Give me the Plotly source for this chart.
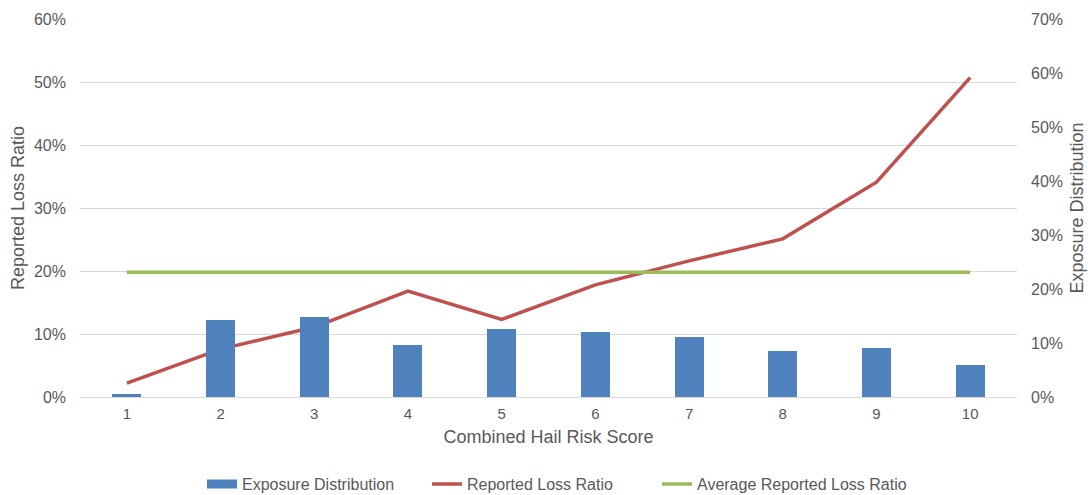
import plotly.graph_objects as go

scores = [1, 2, 3, 4, 5, 6, 7, 8, 9, 10]
tick_labels = ["1", "2", "3", "4", "5", "6", "7", "8", "9", "10"]
exposure = [0.5, 14.3, 14.8, 9.7, 12.6, 12.1, 11.1, 8.5, 9.0, 5.9]
loss_ratio = [2.2, 7.6, 11.1, 16.8, 12.3, 17.8, 21.6, 25.1, 34.1, 50.7]
avg_loss_ratio = [19.8] * 10

FONT = "Liberation Sans, Arial, sans-serif"
GREY = "#595959"
BLUE = "#4F81BD"

fig = go.Figure()
fig.add_trace(go.Bar(
    x=scores, y=exposure, name="Exposure Distribution", yaxis="y2",
    marker=dict(color=BLUE, line=dict(width=0)), width=0.31, showlegend=False,
))
# legend entry for the bars (wide rectangle swatch)
fig.add_trace(go.Scatter(
    x=[None], y=[None], name="Exposure Distribution", mode="lines",
    line=dict(color=BLUE, width=9), legend="legend",
))
fig.add_trace(go.Scatter(
    x=scores, y=loss_ratio, name="Reported Loss Ratio", mode="lines",
    line=dict(color="#C0504D", width=3.5), legend="legend2",
))
fig.add_trace(go.Scatter(
    x=scores, y=avg_loss_ratio, name="Average Reported Loss Ratio", mode="lines",
    line=dict(color="#9BBB59", width=3.5), legend="legend3",
))

def leg(xpx):
    return dict(orientation="h", xref="container", x=xpx / 1088, xanchor="left",
                yref="container", y=0.022, yanchor="middle",
                font=dict(size=16, color=GREY), bgcolor="rgba(0,0,0,0)")

fig.update_layout(
    width=1088, height=495,
    margin=dict(l=80, r=71, t=19, b=98, autoexpand=False),
    paper_bgcolor="white", plot_bgcolor="white",
    font=dict(family=FONT, color=GREY, size=15),
    showlegend=True,
    legend=leg(202), legend2=leg(427), legend3=leg(657),
    xaxis=dict(range=[0.5, 10.5], tickvals=scores, ticktext=tick_labels,
               showgrid=False, showline=True, linecolor="#D9D9D9", linewidth=1,
               ticks="", tickfont=dict(size=15, color=GREY), ticklabelstandoff=3,
               title=dict(text="Combined Hail Risk Score", font=dict(size=18, color=GREY), standoff=9),
               zeroline=False, automargin=False),
    yaxis=dict(range=[0, 60], tickvals=[0, 10, 20, 30, 40, 50, 60],
               ticktext=["0%", "10%", "20%", "30%", "40%", "50%", "60%"],
               showgrid=True, gridcolor="#D9D9D9", gridwidth=1, zeroline=False,
               tickfont=dict(size=16, color=GREY), ticks="", ticklabelstandoff=13,
               automargin=False,
               title=dict(text="Reported Loss Ratio", font=dict(size=18, color=GREY), standoff=4)),
    yaxis2=dict(range=[0, 70], tickvals=[0, 10, 20, 30, 40, 50, 60, 70],
                ticktext=["0%", "10%", "20%", "30%", "40%", "50%", "60%", "70%"],
                overlaying="y", side="right", showgrid=False, zeroline=False,
                tickfont=dict(size=16, color=GREY), ticks="", ticklabelstandoff=13,
                automargin=False,
                title=dict(text="Exposure Distribution", font=dict(size=18, color=GREY), standoff=8)),
    bargap=0,
)

fig.write_html("out.html")
